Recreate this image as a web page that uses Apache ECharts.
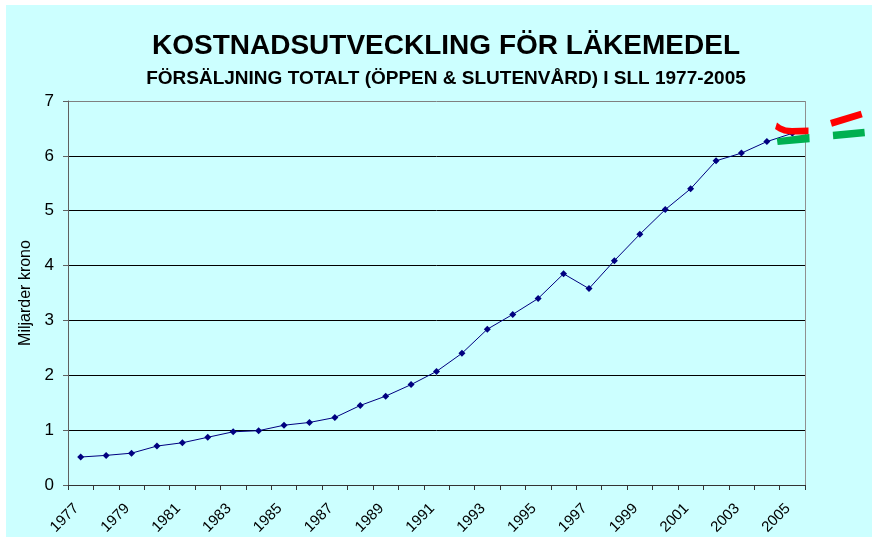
<!DOCTYPE html>
<html>
<head>
<meta charset="utf-8">
<script src="https://cdn.jsdelivr.net/npm/echarts@6/dist/echarts.min.js"></script>
<style>
  html, body { margin: 0; padding: 0; background: #ffffff; }
  #chart { width: 872px; height: 538px; }
</style>
</head>
<body>
<div id="chart"></div>
<script>
// ---- data ----
const titleText = 'KOSTNADSUTVECKLING FÖR LÄKEMEDEL';
const subtitleText = 'FÖRSÄLJNING TOTALT (ÖPPEN & SLUTENVÅRD) I SLL 1977-2005';
const yAxisName = 'Miljarder krono';
const years = ['1977','1978','1979','1980','1981','1982','1983','1984','1985','1986',
               '1987','1988','1989','1990','1991','1992','1993','1994','1995','1996',
               '1997','1998','1999','2000','2001','2002','2003','2004','2005'];
const sales = [0.51, 0.54, 0.58, 0.71, 0.77, 0.87, 0.97, 0.99, 1.09, 1.14,
               1.23, 1.45, 1.62, 1.83, 2.07, 2.40, 2.84, 3.11, 3.40, 3.85,
               3.58, 4.09, 4.57, 5.02, 5.40, 5.91, 6.05, 6.26, 6.41];
const yTicks = [0, 1, 2, 3, 4, 5, 6, 7];

const FONT = 'Liberation Sans, Arial, sans-serif';
const chart = echarts.init(document.getElementById('chart'), null, { renderer: 'canvas' });

const option = {
  backgroundColor: '#ffffff',
  animation: false,
  title: [
    { text: titleText, left: 446, top: 32, padding: 0, textAlign: 'center',
      textStyle: { fontFamily: FONT, fontSize: 28, fontWeight: 'bold', color: '#000' } },
    { text: subtitleText, left: 446, top: 69, padding: 0, textAlign: 'center',
      textStyle: { fontFamily: FONT, fontSize: 19, fontWeight: 'bold', color: '#000' } }
  ],
  graphic: [
    { type: 'rect', z: -10, silent: true, shape: { x: 6, y: 5, width: 866, height: 532 },
      style: { fill: '#CCFFFF' } },
    // right border of plot area
    { type: 'line', z: 5, silent: true, shape: { x1: 805.5, y1: 101, x2: 805.5, y2: 485 },
      style: { stroke: '#909090', lineWidth: 1 } },
    // decorative logo strokes
    { type: 'polygon', z: 20, silent: true,
      shape: { points: [[777,122.5],[781,125.5],[786,127.5],[792,128],[808.5,127.5],
                        [808.5,134.5],[791,134.5],[784,133.5],[779,131.5],[775,129]] },
      style: { fill: '#FF0000' } },
    { type: 'polygon', z: 20, silent: true,
      shape: { points: [[776.7,138.3],[809.3,134],[809.7,142.3],[777.7,145]] },
      style: { fill: '#00B050' } },
    { type: 'polygon', z: 20, silent: true,
      shape: { points: [[830,120],[860.7,110.7],[862.7,117.3],[832,126.7]] },
      style: { fill: '#FF0000' } },
    { type: 'polygon', z: 20, silent: true,
      shape: { points: [[832.7,131.7],[864.3,128.7],[865,136.3],[833.3,139.3]] },
      style: { fill: '#00B050' } }
  ],
  grid: { left: 68, right: 67, top: 101, bottom: 53, containLabel: false },
  xAxis: {
    type: 'category',
    data: years,
    boundaryGap: true,
    axisLine: { show: true, lineStyle: { color: '#333', width: 1 } },
    axisTick: { show: true, interval: 0, length: 5, inside: false, lineStyle: { color: '#333' } },
    axisLabel: { interval: 1, rotate: 45, margin: 17, padding: [0, 6, 0, 0], color: '#000',
                 fontFamily: FONT, fontSize: 15 },
    splitLine: { show: false }
  },
  yAxis: {
    type: 'value',
    min: yTicks[0], max: yTicks[yTicks.length - 1], interval: 1,
    name: yAxisName,
    nameLocation: 'middle',
    nameRotate: 90,
    nameGap: 31,
    nameTextStyle: { fontFamily: FONT, fontSize: 16, color: '#000' },
    axisLine: { show: true, lineStyle: { color: '#606060', width: 1 } },
    axisTick: { show: true, length: 5, lineStyle: { color: '#606060' } },
    axisLabel: { margin: 14, color: '#000', fontFamily: FONT, fontSize: 17 },
    splitLine: { show: true, lineStyle: {
      color: ['#000','#000','#000','#000','#000','#000','#000','#808080'], width: 1 } }
  },
  series: [{
    type: 'line',
    data: sales,
    symbol: 'diamond',
    symbolSize: 7,
    showSymbol: true,
    lineStyle: { color: '#000080', width: 1 },
    itemStyle: { color: '#000080' },
    z: 3
  }]
};
chart.setOption(option);
</script>
</body>
</html>
